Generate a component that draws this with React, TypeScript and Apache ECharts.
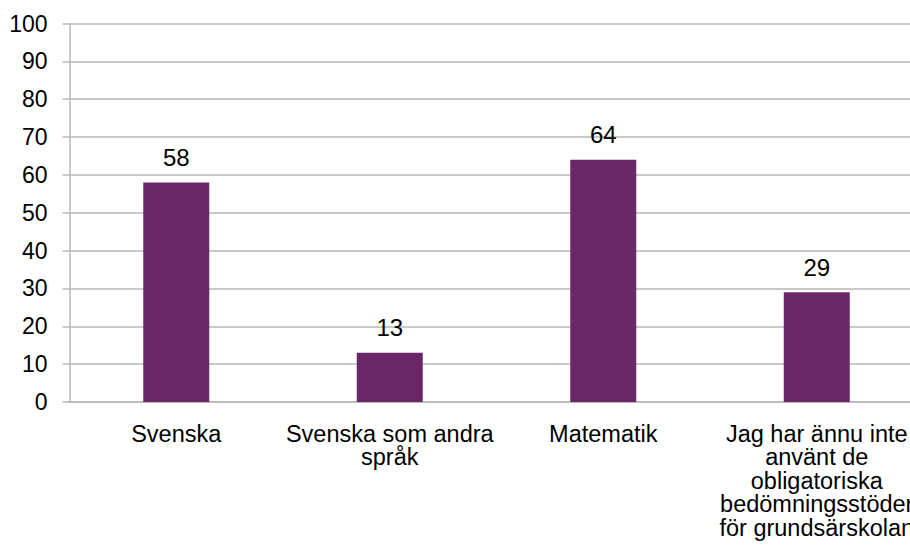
import React, { useEffect, useRef } from "react";
import * as echarts from "echarts";

const categories = [
  "Svenska",
  "Svenska som andra\nspråk",
  "Matematik",
  "Jag har ännu inte\nanvänt de\nobligatoriska\nbedömningsstöder\nför grundsärskolan",
];
const values = [58, 13, 64, 29];
const yTicks = [0, 10, 20, 30, 40, 50, 60, 70, 80, 90, 100];

export default function App() {
  const ref = useRef<HTMLDivElement>(null);
  useEffect(() => {
    if (!ref.current) return;
    const chart = echarts.init(ref.current, null, { renderer: "svg" });
    const gridColor = "#BAB6B9";
    const font = "Liberation Sans, Arial, sans-serif";
    chart.setOption({
      animation: false,
      backgroundColor: "#ffffff",
      textStyle: { fontFamily: font },
      grid: {
        left: 69.5,
        top: 23.5,
        right: -13.5,
        bottom: 149,
        containLabel: false,
        outerBoundsMode: "none",
      },
      xAxis: {
        type: "category",
        data: categories,
        axisLine: { show: true, lineStyle: { color: gridColor, width: 1.5 } },
        axisTick: { show: false },
        axisLabel: {
          interval: 0,
          margin: 20,
          fontSize: 23.5,
          lineHeight: 23.5,
          color: "#000000",
          fontFamily: font,
          align: "center",
          hideOverlap: false,
        },
      },
      yAxis: {
        type: "value",
        min: yTicks[0],
        max: yTicks[yTicks.length - 1],
        interval: 10,
        axisLine: { show: true, lineStyle: { color: gridColor, width: 1.5 } },
        axisTick: { show: true, length: 7, lineStyle: { color: gridColor, width: 1.5 } },
        splitLine: { show: true, lineStyle: { color: gridColor, width: 1.5 } },
        axisLabel: {
          margin: 22,
          fontSize: 23,
          color: "#000000",
          fontFamily: font,
        },
      },
      series: [
        {
          type: "bar",
          data: values,
          barWidth: 66,
          itemStyle: { color: "#6A2768" },
          label: {
            show: true,
            position: "top",
            distance: 13,
            fontSize: 24,
            color: "#000000",
            fontFamily: font,
          },
        },
      ],
    });
    return () => chart.dispose();
  }, []);
  return (
    <div
      ref={ref}
      style={{ position: "fixed", left: 0, top: 0, width: 910, height: 551, background: "#fff" }}
    />
  );
}
